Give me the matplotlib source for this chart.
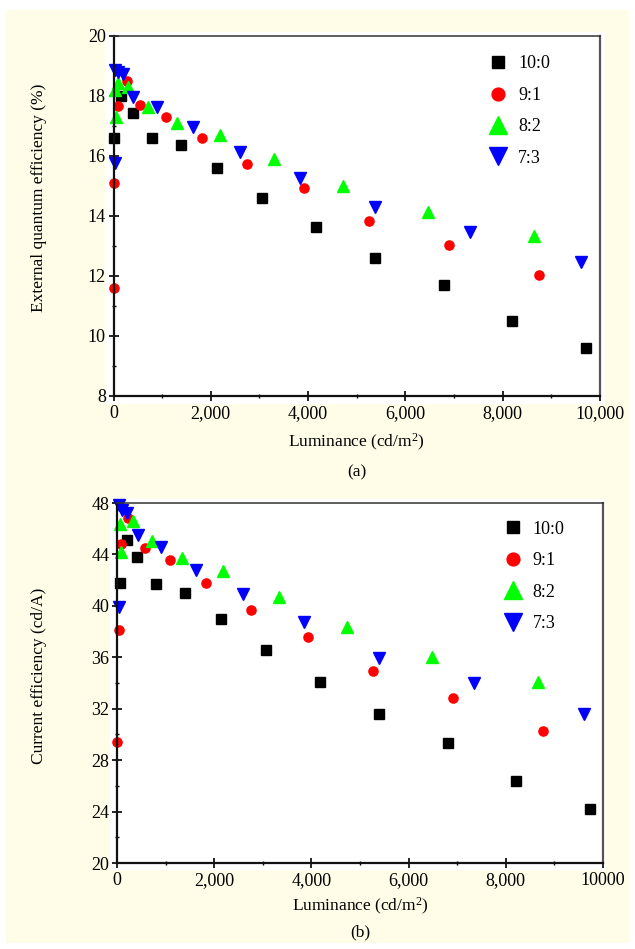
import matplotlib
matplotlib.use("Agg")
import matplotlib.pyplot as plt
from matplotlib.patches import Rectangle
from matplotlib.ticker import MultipleLocator

# doping ratios and their styles
ratios = ["10:0", "9:1", "8:2", "7:3"]
colors = ["black", "#ff0000", "#00ff00", "#0000ff"]
markers = ["s", "o", "^", "v"]
sizes = [6.6, 6.6, 9.0, 9.0]

# (a) external quantum efficiency (%) vs luminance (cd/m2)
eqe_lum = [
    [10, 155, 400, 790, 1390, 2125, 3050, 4155, 5375, 6795, 8185, 9705],
    [0, 20, 90, 280, 545, 1080, 1820, 2745, 3915, 5250, 6895, 8745],
    [30, 50, 90, 300, 710, 1300, 2190, 3300, 4715, 6465, 8645],
    [30, 30, 100, 200, 400, 895, 1635, 2600, 3835, 5375, 7330, 9610],
]
eqe_val = [
    [16.6, 18.0, 17.45, 16.6, 16.35, 15.6, 14.6, 13.63, 12.6, 11.7, 10.5, 9.6],
    [11.6, 15.1, 17.67, 18.5, 17.7, 17.3, 16.6, 15.73, 14.93, 13.83, 13.03, 12.04],
    [18.2, 17.3, 18.45, 18.3, 17.63, 17.1, 16.7, 15.9, 15.0, 14.13, 13.33],
    [15.77, 18.87, 18.8, 18.72, 17.97, 17.63, 16.97, 16.13, 15.27, 14.3, 13.47, 12.47],
]

# (b) current efficiency (cd/A) vs luminance (cd/m2)
ce_lum = [
    [60, 200, 420, 800, 1390, 2150, 3060, 4170, 5390, 6820, 8200, 9730],
    [0, 40, 75, 230, 575, 1090, 1825, 2750, 3920, 5270, 6920, 8760],
    [62, 76, 335, 712, 1330, 2190, 3333, 4740, 6490, 8656],
    [41, 41, 96, 200, 438, 905, 1620, 2600, 3855, 5391, 7346, 9609],
]
ce_val = [
    [41.8, 45.1, 43.8, 41.7, 41.0, 39.0, 36.6, 34.1, 31.6, 29.3, 26.4, 24.2],
    [29.4, 38.1, 44.8, 46.8, 44.5, 43.6, 41.8, 39.7, 37.6, 34.9, 32.8, 30.3],
    [46.37, 44.2, 46.62, 45.04, 43.75, 42.7, 40.7, 38.38, 36.0, 34.1],
    [39.9, 47.85, 47.46, 47.25, 45.5, 44.6, 42.8, 40.9, 38.75, 35.97, 33.98, 31.57],
]

xticks = [0, 2000, 4000, 6000, 8000, 10000]
xtick_labels_a = ["0", "2,000", "4,000", "6,000", "8,000", "10,000"]
xtick_labels_b = ["0", "2,000", "4,000", "6,000", "8,000", "10000"]

W, H = 635, 949
CREAM = "#fffde8"


def px_rect(x0, y0, x1, y1):
    # pixel box (top-left origin) -> figure fraction
    return [x0 / W, 1 - y1 / H, (x1 - x0) / W, (y1 - y0) / H]


def style_axes(ax, ylim, ymajor, yminor, xlabels):
    ax.set_xlim(0, 10000)
    ax.set_ylim(*ylim)
    ax.yaxis.set_major_locator(MultipleLocator(ymajor))
    ax.yaxis.set_minor_locator(MultipleLocator(yminor))
    ax.set_xticks(xticks)
    ax.set_xticklabels(xlabels)
    ax.xaxis.set_minor_locator(MultipleLocator(1000))
    ax.tick_params(which="major", direction="inout", length=7, width=1.2,
                   labelsize=13, pad=3)
    ax.tick_params(which="minor", direction="inout", length=3.5, width=1.0)
    ax.tick_params(axis="y", which="major", pad=2)
    for side in ["left", "bottom"]:
        ax.spines[side].set_linewidth(1.6)
        ax.spines[side].set_color("#111111")
    ax.spines["top"].set_linewidth(1.1)
    ax.spines["top"].set_color("#333333")
    ax.spines["right"].set_linewidth(1.6)
    ax.spines["right"].set_color("#555555")


def main():
    plt.rcParams["font.family"] = ["Liberation Serif", "DejaVu Serif"]
    plt.rcParams["mathtext.default"] = "regular"

    fig = plt.figure(figsize=(W / 100, H / 100), dpi=100)
    fig.patch.set_facecolor("white")
    fig.patches.append(Rectangle((6 / W, 6 / H), 623 / W, 933 / H,
                                 transform=fig.transFigure, facecolor=CREAM,
                                 edgecolor="none", zorder=-10))
    for box in [(105, 32, 605, 404), (110, 499, 606, 870)]:
        x, y, w, h = px_rect(*box)
        fig.patches.append(Rectangle((x, y), w, h, transform=fig.transFigure,
                                     facecolor="white", edgecolor="none", zorder=-5))

    ax1 = fig.add_axes(px_rect(113.5, 36, 600, 396))
    ax2 = fig.add_axes(px_rect(117, 503, 603, 863))

    for i in range(4):
        ax1.plot(eqe_lum[i], eqe_val[i], linestyle="none", marker=markers[i],
                 markersize=sizes[i], color=colors[i], label=ratios[i], clip_on=False)
        ax2.plot(ce_lum[i], ce_val[i], linestyle="none", marker=markers[i],
                 markersize=sizes[i], color=colors[i], label=ratios[i], clip_on=False)

    style_axes(ax1, (8, 20), 2, 1, xtick_labels_a)
    style_axes(ax2, (20, 48), 4, 2, xtick_labels_b)

    ax1.set_ylabel("External quantum efficiency (%)", fontsize=12.5, va="center")
    ax1.yaxis.set_label_coords(-0.153, 0.55)
    ax2.set_ylabel("Current efficiency (cd/A)", fontsize=12.5, va="center")
    ax2.yaxis.set_label_coords(-0.160, 0.52)

    for ax, ly in [(ax1, -0.13), (ax2, -0.122)]:
        ax.set_xlabel("Luminance (cd/m$^2$)", fontsize=12.5, va="center")
        ax.xaxis.set_label_coords(0.5, ly)

    fig.text(357 / W, 1 - 472 / H, "(a)", fontsize=12.5, ha="center", va="center")
    fig.text(360 / W, 1 - 932 / H, "(b)", fontsize=12.5, ha="center", va="center")

    for ax, anchor in [(ax1, (0.772, 0.946)), (ax2, (0.796, 0.951))]:
        ax.legend(loc="upper left", bbox_to_anchor=anchor, frameon=False,
                  fontsize=13, borderpad=0, borderaxespad=0, handlelength=1.0,
                  handletextpad=0.6, labelspacing=0.8, markerscale=1.4)

    fig.savefig("out.png", dpi=100)


if __name__ == "__main__":
    main()
